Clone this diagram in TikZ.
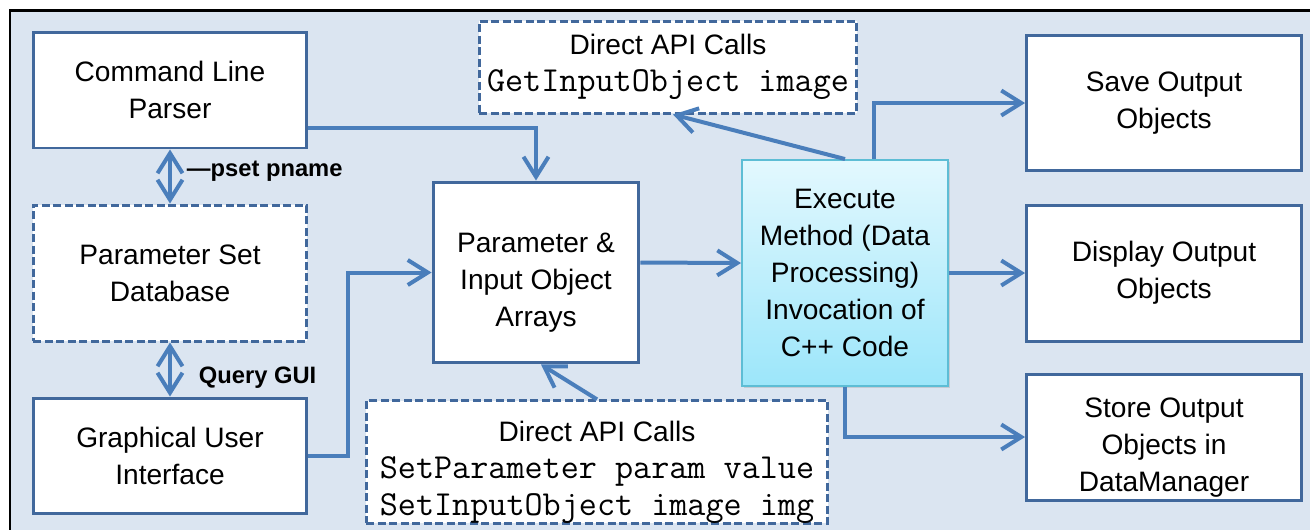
\documentclass[tikz,border=0pt]{standalone}
\usepackage{fontspec}
\setmainfont{Liberation Sans}
\usetikzlibrary{arrows.meta,shadows}
\definecolor{bgblue}{HTML}{DBE5F1}
\definecolor{boxblue}{HTML}{41689C}
\definecolor{arrblue}{HTML}{4A7EBB}
\definecolor{exectop}{HTML}{E3F8FE}
\definecolor{execbot}{HTML}{9CE6FA}
\definecolor{execline}{HTML}{5DBDD5}
\newcommand{\apicode}[1]{{\fontsize{20}{21}\selectfont\ttfamily #1}}
\newcommand{\topgap}{\rule{0pt}{23pt}}

\begin{document}
\begin{tikzpicture}[x=0.02cm, y=-0.02cm,
    font=\fontsize{16}{21}\selectfont,
    box/.style={draw=boxblue, line width=0.06cm, fill=white, align=center, inner sep=0pt},
    dbox/.style={box, dash pattern=on 0.16cm off 0.07cm},
    arr/.style={arrblue, line width=0.08cm, -{Straight Barb[length=0.4cm, width=0.5cm]}},
    darr/.style={arr, {Straight Barb[length=0.4cm, width=0.5cm]}-{Straight Barb[length=0.4cm, width=0.5cm]}},
    lbl/.style={text=black, font=\fontsize{13.5}{16}\selectfont\bfseries, inner sep=0pt}]

    \fill[white] (0,0) rectangle (1310,529);
    \useasboundingbox (0,0) rectangle (1310,529);
    \clip (0,0) rectangle (1310,529);
    \draw[line width=0.06cm, fill=bgblue] (10,10) rectangle (1340,560);

    \node[box, minimum width=5.48cm, minimum height=2.32cm] (clp) at (170,90) {Command Line\\Parser};
    \node[dbox, minimum width=5.48cm, minimum height=2.72cm] (psd) at (170,273) {Parameter Set\\Database};
    \node[box, minimum width=5.48cm, minimum height=2.30cm] (gui) at (170,455.5) {Graphical User\\Interface};

    \node[box, minimum width=4.12cm, minimum height=3.62cm] (arrays) at (536,272.5) {\topgap Parameter \&\\Input Object\\Arrays};
    \node[draw=execline, line width=0.04cm, top color=exectop, bottom color=execbot, align=center,
        drop shadow={opacity=0.25, shadow xshift=0.04cm, shadow yshift=-0.04cm},
        minimum width=4.12cm, minimum height=4.52cm] (exec) at (845,273) {Execute\\Method (Data\\Processing)\\Invocation of\\C++ Code};

    \node[dbox, minimum width=7.56cm, minimum height=1.84cm] (getapi) at (668,67) {Direct API Calls\\\apicode{GetInputObject image}};
    \node[dbox, minimum width=9.24cm, minimum height=2.22cm] (setapi) at (597,462) {\topgap Direct API Calls\\\apicode{SetParameter param value}\\\apicode{SetInputObject image img}};

    \node[box, minimum width=5.5cm, minimum height=2.72cm] (save) at (1164,103) {Save Output\\Objects};
    \node[box, minimum width=5.5cm, minimum height=2.72cm] (disp) at (1164,273) {Display Output\\Objects};
    \node[box, minimum width=5.5cm, minimum height=2.52cm] (store) at (1164,437) {\topgap Store Output\\Objects in\\DataManager};

    \draw[darr] (clp.south) -- node[lbl, right=0.3cm, pos=0.4] {—pset pname} (psd.north);
    \draw[darr] (psd.south) -- node[lbl, right=0.54cm, pos=0.65] {Query GUI} (gui.north);

    \draw[arr] ([yshift=-0.76cm]clp.east) -| (arrays.north);
    \draw[arr] (gui.east) -- ++(40,0) |- (arrays.west);
    \draw[arr] ([yshift=0.2cm]arrays.east) -- ([yshift=0.2cm]exec.west);
    \draw[arr] (setapi.north) -- ([xshift=0.1cm]arrays.south);

    \draw[arr] (exec.north) -- ([xshift=0.1cm]getapi.south);
    \draw[arr] ([xshift=0.58cm]exec.north) |- (save.west);
    \draw[arr] (exec.east) -- (disp.west);
    \draw[arr] (exec.south) |- (store.west);
\end{tikzpicture}
\end{document}
